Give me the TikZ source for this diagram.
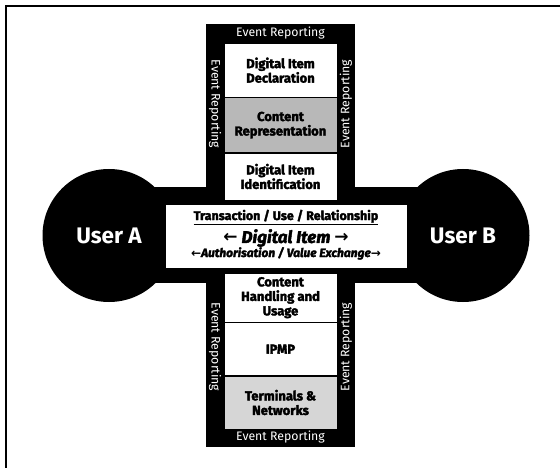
\documentclass[tikz,border=0pt]{standalone}
\usepackage{fontspec}
\setmainfont{Fira Sans}
\newfontfamily\heavyfont{Fira Sans}[BoldFeatures={FakeBold=2.5}, BoldItalicFeatures={FakeBold=2.5}]
\newfontfamily\arrowfont{DejaVu Sans}
\usetikzlibrary{positioning}
\definecolor{stipdark}{gray}{0.72}
\definecolor{stiplight}{gray}{0.84}
\tikzset{
  layerbox/.style={draw, fill=white, minimum width=113pt, inner sep=0pt, align=center,
    font=\heavyfont\bfseries\fontsize{13}{14.5}\selectfont},
  reportlabel/.style={white, inner sep=0pt, font=\fontsize{12.3}{13}\selectfont},
  userdisc/.style={circle, fill=black, minimum size=133pt, inner sep=0pt, text=white,
    font=\bfseries\fontsize{22.5}{24}\selectfont},
}

\begin{document}
\begin{tikzpicture}[x=1pt, y=-1pt]
  \useasboundingbox (0,0) rectangle (560,468);
  \draw[line width=1.5pt] (6,468) -- (6,6) -- (560,6);

  % black cross: vertical bar, horizontal band and the two users
  \fill (206,24) rectangle (355,447);
  \fill (109,187) rectangle (463,283);
  \node[userdisc] (userA) at (109,235.5) {User A};
  \node[userdisc] (userB) at (463,235.5) {User B};

  % upper stack
  \node[layerbox, minimum height=54pt, anchor=north] (did) at (280.5,43) {Digital Item\\Declaration};
  \node[layerbox, fill=stipdark, minimum height=55pt, below=0pt of did] (crep) {Content\\Representation};
  \node[layerbox, minimum height=47pt, below=0pt of crep] (dii) {Digital Item\\Identification};

  % lower stack
  \node[layerbox, minimum height=49pt, anchor=north] (chu) at (280.5,273) {Content\\Handling and\\Usage};
  \node[layerbox, minimum height=53pt, below=0pt of chu] (ipmp) {IPMP};
  \node[layerbox, fill=stiplight, minimum height=53pt, below=0pt of ipmp] (tnet) {Terminals \&\\Networks};

  % transaction box across the middle
  \node[draw, fill=white, minimum width=242pt, minimum height=64pt, inner sep=0pt] (trans) at (286,236) {};
  \node[anchor=base, inner sep=0pt, font=\heavyfont\bfseries\fontsize{12.5}{14}\selectfont] (relTitle) at (286,220)
    {\underline{Transaction / Use / Relationship}};
  \node[anchor=base, inner sep=0pt, font=\heavyfont\bfseries\itshape\fontsize{17}{18}\selectfont] (itemLine) at (286,243)
    {{\arrowfont ←} Digital Item {\arrowfont →}};
  \node[anchor=base, inner sep=0pt, font=\heavyfont\bfseries\itshape\fontsize{12}{13}\selectfont] (valueLine) at (286,257)
    {{\arrowfont\bfseries ←}Authorisation / Value Exchange{\arrowfont\bfseries →}};

  % event reporting around the bar
  \node[reportlabel] (erTop) at (280.5,33) {Event Reporting};
  \node[reportlabel] (erBot) at (280.5,437) {Event Reporting};
  \foreach \y/\n in {104/1, 347/2} {
    \node[reportlabel, rotate=-90] (erL\n) at (215,\y) {Event Reporting};
    \node[reportlabel, rotate=90] (erR\n) at (346,\y) {Event Reporting};
  }
\end{tikzpicture}
\end{document}
